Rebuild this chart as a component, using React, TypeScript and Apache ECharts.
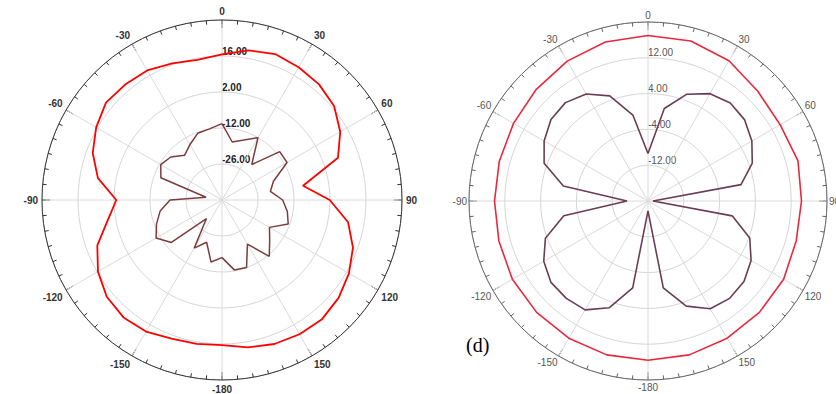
import React, { useEffect, useRef } from "react";
import * as echarts from "echarts";

// Angles (degrees, clockwise from top)
const ANGLES_10 = [0, 10, 20, 30, 40, 50, 60, 70, 80, 90, 100, 110, 120, 130, 140, 150, 160, 170,
  180, 190, 200, 210, 220, 230, 240, 250, 260, 270, 280, 290, 300, 310, 320, 330, 340, 350];
const ANGLES_15 = [0, 15, 30, 45, 60, 75, 90, 105, 120, 135, 150, 165,
  180, 195, 210, 225, 240, 255, 270, 285, 300, 315, 330, 345];

// Left plot (dB)
const LEFT_RED = [16.6, 19.1, 20.4, 19.6, 18.7, 16.9, 13.1, 8.0, -8.0, 1.9, 9.8, 14.2, 17.0, 19.2, 20.5, 20.3, 19.6, 18.2,
  16.4, 16.8, 17.4, 19.1, 19.6, 18.5, 15.7, 11.6, 5.1, 1.1, 9.0, 13.5, 16.5, 18.9, 18.6, 18.2, 16.5, 15.3];
const LEFT_BROWN = [-10.3, -17.1, -15.2, -12.0, -22.0, -10.7, -10.8, -18.7, -20.9, -16.4, -14.2, -12.6, -18.7, -15.8, -11.4, -20.2, -12.1, -12.4,
  -17.6, -15.5, -22.5, -18.4, -30.6, -14.3, -10.4, -12.9, -15.6, -19.8, -33.7, -14.7, -12.5, -14.0, -17.3, -15.1, -12.4, -11.9];

// Right plot (dB)
const RIGHT_RED = [17.0, 17.0, 16.2, 14.7, 14.1, 14.7, 14.3, 14.3, 15.0, 15.2, 15.4, 15.6,
  15.6, 15.6, 15.4, 15.2, 15.0, 14.5, 14.3, 14.4, 14.7, 15.3, 16.1, 16.8];
const RIGHT_BROWN = [-9.4, 1.0, 5.4, 7.7, 8.6, 8.2, 6.8, 4.8, 1.1, -18.9, -0.9, 4.2, 6.6, 8.0, 8.4, 7.8, 5.0, -0.3,
  -17.8, -0.3, 5.4, 8.1, 8.4, 8.3, 6.9, 4.4, -0.9, -15.3, -0.8, 4.7, 6.8, 8.3, 8.7, 7.6, 5.0, -0.5];

// Radial scales: [min, max, step] in dB
const LEFT_SCALE = [-40, 30, 14];
const RIGHT_SCALE = [-20, 20, 8];

const buildData = (angles: number[], values: number[], min: number) => {
  const d = angles.map((a, i) => [values[i] - min, a]);
  d.push([values[0] - min, 360]);
  return d;
};

const angleLabel = (v: number) => {
  if (v === 360) return "";
  if (v === 180) return "-180";
  return v > 180 ? String(v - 360) : String(v);
};

export default function App() {
  const ref = useRef<HTMLDivElement>(null);
  useEffect(() => {
    if (!ref.current) return;
    const chart = echarts.init(ref.current, undefined, { renderer: "svg" });
    const makeAngle = (idx: number, dark: boolean, margin: number) => ({
      polarIndex: idx,
      type: "value",
      min: 0,
      max: 360,
      interval: 30,
      startAngle: 90,
      clockwise: true,
      z: 3,
      axisLine: { lineStyle: { color: dark ? "#333" : "#666", width: 1 } },
      axisTick: { show: true, inside: true, length: 8, lineStyle: { color: dark ? "#333" : "#666" } },
      axisLabel: {
        formatter: angleLabel,
        color: dark ? "#333" : "#555",
        fontWeight: dark ? "bold" : "normal",
        fontSize: 10,
        fontFamily: "Liberation Sans, Arial, sans-serif",
        margin,
      },
      splitLine: { show: true, lineStyle: { color: "#dadada", width: 1 } },
    });
    const makeMinor = (idx: number, dark: boolean) => ({
      polarIndex: idx,
      type: "value",
      min: 0,
      max: 360,
      interval: 5,
      startAngle: 90,
      clockwise: true,
      axisLine: { show: false },
      axisTick: { show: true, inside: true, length: 4, lineStyle: { color: dark ? "#333" : "#666" } },
      axisLabel: { show: false },
      splitLine: { show: false },
    });
    const makeRadius = (idx: number, scale: number[], dark: boolean) => ({
      polarIndex: idx,
      type: "value",
      min: 0,
      max: scale[1] - scale[0],
      interval: scale[2],
      axisLine: { show: false },
      axisTick: { show: false },
      axisLabel: {
        formatter: (v: number) => (v + scale[0]).toFixed(2),
        showMinLabel: false,
        showMaxLabel: false,
        align: "left",
        verticalAlign: "bottom",
        margin: 0,
        color: dark ? "#222" : "#555",
        fontWeight: dark ? "bold" : "normal",
        fontSize: 10,
        fontFamily: "Liberation Sans, Arial, sans-serif",
      },
      splitLine: { show: true, lineStyle: { color: "#d6d6d6", width: 1 } },
    });
    const hiddenRadius = (idx: number) => ({ polarIndex: idx, type: "value", min: 0, max: 1, show: false });
    chart.setOption({
      animation: false,
      backgroundColor: "#ffffff",
      polar: [
        { center: [222, 200], radius: 180 },
        { center: [648, 201], radius: 179 },
        { center: [222, 200], radius: 180 },
        { center: [648, 201], radius: 179 },
      ],
      angleAxis: [makeAngle(0, true, 4), makeAngle(1, false, 2), makeMinor(2, true), makeMinor(3, false)],
      radiusAxis: [makeRadius(0, LEFT_SCALE, true), makeRadius(1, RIGHT_SCALE, false), hiddenRadius(2), hiddenRadius(3)],
      graphic: [
        {
          type: "text",
          left: 466,
          top: 335,
          style: { text: "(d)", font: '20px "Liberation Serif", "DejaVu Serif", serif', fill: "#000" },
        },
      ],
      series: [
        {
          type: "line", coordinateSystem: "polar", polarIndex: 0, showSymbol: false,
          data: buildData(ANGLES_10, LEFT_RED, LEFT_SCALE[0]),
          lineStyle: { color: "#ff0000", width: 1.8 },
        },
        {
          type: "line", coordinateSystem: "polar", polarIndex: 0, showSymbol: false,
          data: buildData(ANGLES_10, LEFT_BROWN, LEFT_SCALE[0]),
          lineStyle: { color: "#7d3c3c", width: 1.5 },
        },
        {
          type: "line", coordinateSystem: "polar", polarIndex: 1, showSymbol: false,
          data: buildData(ANGLES_15, RIGHT_RED, RIGHT_SCALE[0]),
          lineStyle: { color: "#e8283c", width: 1.6 },
        },
        {
          type: "line", coordinateSystem: "polar", polarIndex: 1, showSymbol: false,
          data: buildData(ANGLES_10, RIGHT_BROWN, RIGHT_SCALE[0]),
          lineStyle: { color: "#6a3d52", width: 1.6 },
        },
      ],
    });
    return () => chart.dispose();
  }, []);
  return <div ref={ref} style={{ position: "absolute", left: 0, top: 0, width: 836, height: 394 }} />;
}
